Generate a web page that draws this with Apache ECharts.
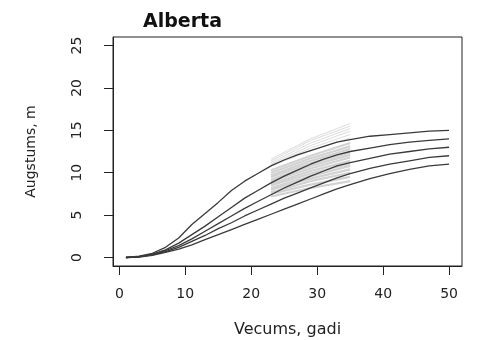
<!DOCTYPE html>
<html>
<head>
<meta charset="utf-8">
<script src="https://cdn.jsdelivr.net/npm/echarts@6/dist/echarts.min.js"></script>
<style>html,body{margin:0;padding:0;background:#fff}#c{width:480px;height:340px}</style>
</head>
<body>
<div id="c"></div>
<script>
// ---- data ----
var titleText = 'Alberta';
var xName = 'Vecums, gadi';
var yName = 'Augstums, m';
var xTicks = [0, 10, 20, 30, 40, 50];
var yTicks = [0, 5, 10, 15, 20, 25];

var ages = [1, 3, 5, 7, 9, 11, 13, 15, 17, 19, 21, 23, 25, 27, 29, 31, 33, 35, 38, 41, 44, 47, 50];
var curve1 = [0, 0.15, 0.5, 1.2, 2.3, 3.9, 5.2, 6.5, 7.9, 9.0, 9.9, 10.8, 11.5, 12.1, 12.6, 13.1, 13.6, 13.9, 14.3, 14.5, 14.7, 14.9, 15.0];
var curve2 = [0, 0.1, 0.4, 0.9, 1.7, 2.7, 3.7, 4.8, 5.9, 7.0, 7.9, 8.8, 9.6, 10.3, 11.0, 11.6, 12.1, 12.5, 12.9, 13.3, 13.6, 13.8, 14.0];
var curve3 = [0, 0.1, 0.35, 0.8, 1.4, 2.2, 3.1, 4.0, 4.9, 5.8, 6.6, 7.4, 8.2, 8.9, 9.6, 10.2, 10.8, 11.2, 11.7, 12.2, 12.5, 12.8, 13.0];
var curve4 = [0, 0.08, 0.3, 0.7, 1.2, 1.9, 2.6, 3.4, 4.1, 4.9, 5.6, 6.3, 7.0, 7.6, 8.2, 8.8, 9.4, 9.9, 10.5, 11.0, 11.4, 11.8, 12.0];
var curve5 = [0, 0.05, 0.25, 0.6, 1.0, 1.5, 2.1, 2.7, 3.3, 3.9, 4.5, 5.1, 5.7, 6.3, 6.9, 7.5, 8.1, 8.6, 9.3, 9.9, 10.4, 10.8, 11.0];

var greyAges = [23, 29, 35];
var upperAt23 = [11.6, 11.4, 11.2, 11.0, 10.9, 10.8];
var upperAt29 = [14.0, 13.8, 13.5, 13.2, 12.9, 12.6];
var upperAt35 = [15.8, 15.5, 15.2, 14.9, 14.5, 14.1];
var lowerAt23 = [10.3, 10.0, 9.7, 9.5, 9.2, 9.0, 8.7, 8.5, 8.2, 8.0, 7.7, 7.5, 7.2];
var lowerAt29 = [12.0, 11.7, 11.4, 11.1, 10.8, 10.5, 10.2, 9.9, 9.6, 9.3, 9.0, 8.6, 8.2];
var lowerAt35 = [13.5, 13.1, 12.8, 12.4, 12.1, 11.8, 11.4, 11.1, 10.8, 10.4, 10.0, 9.5, 9.0];

// ---- build series ----
function pairs(xs, ys) { return xs.map(function (x, i) { return [x, ys[i]]; }); }
var series = [];
function greyGroup(a, b, c, color, w) {
  for (var i = 0; i < a.length; i++) {
    series.push({
      type: 'line', showSymbol: false, silent: true,
      data: pairs(greyAges, [a[i], b[i], c[i]]),
      lineStyle: { color: color, width: w }, z: 1
    });
  }
}
greyGroup(upperAt23, upperAt29, upperAt35, '#dcdcdc', 1);
greyGroup(lowerAt23, lowerAt29, lowerAt35, '#d2d2d2', 2.2);
[curve1, curve2, curve3, curve4, curve5].forEach(function (c) {
  series.push({
    type: 'line', showSymbol: false, silent: true,
    data: pairs(ages, c),
    lineStyle: { color: '#3a3a3a', width: 1.3 }, z: 3
  });
});

var font = 'DejaVu Sans';
var chart = echarts.init(document.getElementById('c'), null, { renderer: 'canvas' });
chart.setOption({
  animation: false,
  backgroundColor: '#fff',
  title: {
    text: titleText, left: 138, top: 8,
    textStyle: { fontFamily: font, fontWeight: 'bold', fontSize: 19, color: '#111' }
  },
  grid: { left: 113, right: 18, top: 37, bottom: 74, outerBoundsMode: 'none', containLabel: false, show: true, borderColor: '#222', borderWidth: 1, backgroundColor: 'transparent' },
  xAxis: {
    type: 'value', min: -0.96, max: 51.96,
    name: xName, nameLocation: 'middle', nameGap: 56,
    nameTextStyle: { fontFamily: font, fontSize: 16, color: '#222' },
    axisLine: { show: true, onZero: false, lineStyle: { color: '#222' } },
    axisTick: { show: true, customValues: xTicks, length: 9, lineStyle: { color: '#222' } },
    axisLabel: { customValues: xTicks, margin: 21, fontFamily: font, fontSize: 14, color: '#222' },
    splitLine: { show: false }
  },
  yAxis: {
    type: 'value', min: -1, max: 26,
    name: yName, nameLocation: 'middle', nameGap: 75,
    nameTextStyle: { fontFamily: font, fontSize: 14, color: '#222' },
    axisLine: { show: true, onZero: false, lineStyle: { color: '#222' } },
    axisTick: { show: true, customValues: yTicks, length: 9, lineStyle: { color: '#222' } },
    axisLabel: { customValues: yTicks, rotate: 90, margin: 29, fontFamily: font, fontSize: 14, color: '#222' },
    splitLine: { show: false }
  },
  series: series
});
</script>
</body>
</html>
